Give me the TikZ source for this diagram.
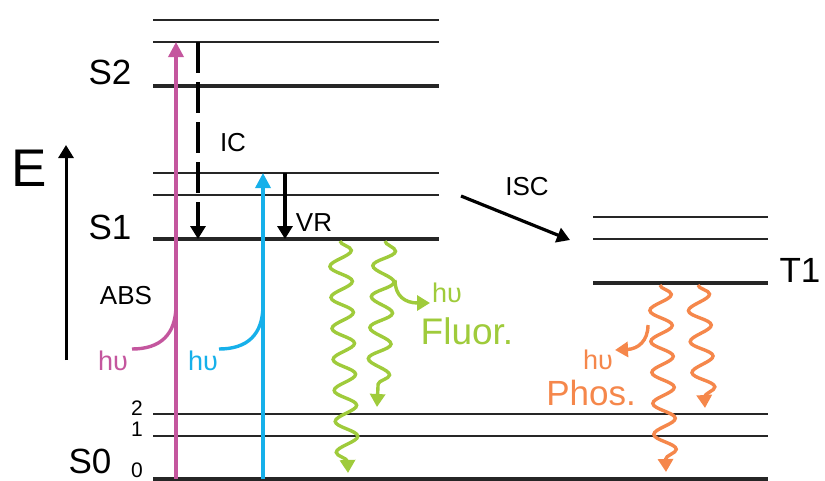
\documentclass[tikz,border=0pt]{standalone}
\usepackage{fontspec}
\setmainfont{Liberation Sans}
\usetikzlibrary{arrows.meta,decorations.pathmorphing}
\definecolor{absmag}{HTML}{C4569E}
\definecolor{abscyan}{HTML}{16B0EA}
\definecolor{fluo}{HTML}{9FCB3B}
\definecolor{phos}{HTML}{F5874B}
\tikzset{
  thinlev/.style={line width=2.4pt, draw=black!85},
  thicklev/.style={line width=4.6pt, draw=black!85},
  lbl/.style={inner sep=0pt, font=\fontsize{35}{35}\selectfont},
  smalllbl/.style={inner sep=0pt, font=\fontsize{26}{26}\selectfont},
  numlbl/.style={inner sep=0pt, font=\fontsize{21}{21}\selectfont},
  tipbig/.style={-{Triangle[length=15pt,width=15pt]}},
  tipmid/.style={-{Triangle[length=13pt,width=15pt]}},
  wave/.style={line width=3.4pt, decorate, decoration={snake, amplitude=11pt, segment length=31pt, post length=9pt}, tipmid},
  absarrow/.style={line width=3.4pt, tipbig},
  photon/.style={line width=3.4pt},
}
\begin{document}
\begin{tikzpicture}[x=1pt,y=-1pt]
\useasboundingbox (0,0) rectangle (825,480);
% S2 levels
\draw[thinlev] (153,20) -- (439,20);
\draw[thinlev] (153,42) -- (439,42);
\draw[thicklev] (153,86) -- (439,86);
% S1 levels
\draw[thinlev] (153,173) -- (439,173);
\draw[thinlev] (153,195) -- (439,195);
\draw[thicklev] (153,239) -- (439,239);
% S0 levels
\draw[thinlev] (153,414) -- (768,414);
\draw[thinlev] (153,436) -- (768,436);
\draw[thicklev] (153,479) -- (768,479);
% T1 levels
\draw[thinlev] (593,217) -- (768,217);
\draw[thinlev] (593,239) -- (768,239);
\draw[thicklev] (593,283) -- (768,283);

% labels
\node[lbl] (s2) at (110,72) {S2};
\node[lbl] (s1) at (110,227) {S1};
\node[lbl] (s0) at (90,461) {S0};
\node[lbl] (t1) at (800,270) {T1};
\node[inner sep=0pt, font=\fontsize{53}{53}\selectfont] (e) at (29,168) {E};
\node[numlbl] (n2) at (137,408) {2};
\node[numlbl] (n1) at (137,429) {1};
\node[numlbl] (n0) at (137,470) {0};
\node[smalllbl] (abs) at (126,296) {ABS};
\node[smalllbl] (ic) at (233,143) {IC};
\node[smalllbl] (vr) at (314,223) {VR};
\node[smalllbl] (isc) at (527,187) {ISC};

% coordinates
\coordinate (eb) at (66,360);  \coordinate (et) at (66,145);
\coordinate (mb) at (176,479); \coordinate (mt) at (176,42);
\coordinate (cb) at (263,479); \coordinate (ct) at (263,173);
\coordinate (ict) at (198,42); \coordinate (icb) at (198,239);
\coordinate (vrt) at (285,173); \coordinate (vrb) at (285,239);
\coordinate (isca) at (461,196); \coordinate (iscb) at (570,240);

% energy axis
\draw[line width=3pt, tipmid] (eb) -- (et);
% absorption
\draw[absarrow, absmag] (mb) -- (mt);
\draw[absarrow, abscyan] (cb) -- (ct);
\coordinate (mp) at (176,305); \coordinate (mpe) at (132,349);
\coordinate (cp) at (263,305); \coordinate (cpe) at (219,349);
\draw[photon, absmag] (mp) .. controls (176,335) and (160,349) .. (mpe);
\draw[photon, abscyan] (cp) .. controls (263,335) and (247,349) .. (cpe);
\node[inner sep=0pt, text=absmag, font=\fontsize{27}{27}\selectfont] (hm) at (113,361) {hυ};
\node[inner sep=0pt, text=abscyan, font=\fontsize{27}{27}\selectfont] (hc) at (203,361) {hυ};

% IC and VR
\draw[line width=3.2pt, dash pattern=on 31pt off 9pt, tipmid] (ict) -- (icb);
\draw[line width=3.2pt, tipmid] (vrt) -- (vrb);
% ISC
\draw[line width=3.2pt, tipmid] (isca) -- (iscb);

% fluorescence
\coordinate (f1t) at (340,241); \coordinate (f1b) at (348,473);
\coordinate (f2t) at (385,241); \coordinate (f2b) at (377,407);
\draw[wave, fluo] (f1t) -- (f1b);
\draw[wave, fluo] (f2t) -- (f2b);
\coordinate (fp) at (395,280); \coordinate (fpe) at (430,303);
\draw[photon, fluo, tipmid] (fp) .. controls (395,296) and (405,303) .. (fpe);
\node[inner sep=0pt, text=fluo, font=\fontsize{27}{27}\selectfont] (hf) at (447,293) {hυ};
\node[inner sep=0pt, text=fluo, font=\fontsize{37}{37}\selectfont] (fl) at (467,331) {Fluor.};

% phosphorescence
\coordinate (p1t) at (660,285); \coordinate (p1b) at (666,472);
\coordinate (p2t) at (698,285); \coordinate (p2b) at (705,408);
\draw[wave, phos] (p1t) -- (p1b);
\draw[wave, phos] (p2t) -- (p2b);
\coordinate (pp) at (648,325); \coordinate (ppe) at (615,350);
\draw[photon, phos, tipmid] (pp) .. controls (648,341) and (638,349) .. (ppe);
\node[inner sep=0pt, text=phos, font=\fontsize{27}{27}\selectfont] (hp) at (598,360) {hυ};
\node[inner sep=0pt, text=phos, font=\fontsize{35}{35}\selectfont] (ph) at (591,393) {Phos.};
\end{tikzpicture}
\end{document}
